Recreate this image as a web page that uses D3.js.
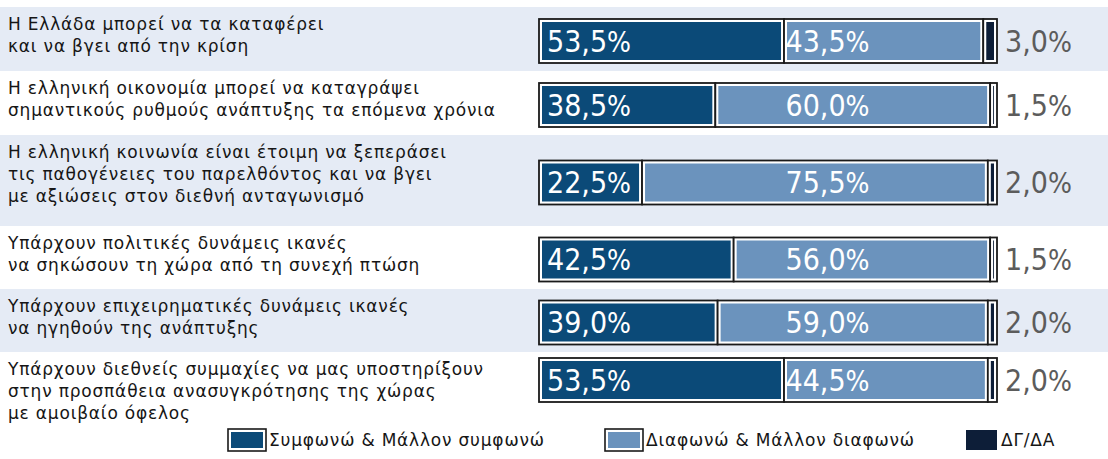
<!DOCTYPE html>
<html>
<head>
<meta charset="utf-8">
<script src="https://cdn.jsdelivr.net/npm/d3@7"></script>
<style>
  html, body { margin: 0; padding: 0; background: #ffffff; }
  svg { display: block; }
</style>
</head>
<body>
<svg id="chart" width="1108" height="459"></svg>
<script>
// ---------------- DATA ----------------
const questions = [
  ["Η Ελλάδα μπορεί να τα καταφέρει", "και να βγει από την κρίση"],
  ["Η ελληνική οικονομία μπορεί να καταγράψει", "σημαντικούς ρυθμούς ανάπτυξης τα επόμενα χρόνια"],
  ["Η ελληνική κοινωνία είναι έτοιμη να ξεπεράσει", "τις παθογένειες του παρελθόντος και να βγει", "με αξιώσεις στον διεθνή ανταγωνισμό"],
  ["Υπάρχουν πολιτικές δυνάμεις ικανές", "να σηκώσουν τη χώρα από τη συνεχή πτώση"],
  ["Υπάρχουν επιχειρηματικές δυνάμεις ικανές", "να ηγηθούν της ανάπτυξης"],
  ["Υπάρχουν διεθνείς συμμαχίες να μας υποστηρίξουν", "στην προσπάθεια ανασυγκρότησης της χώρας", "με αμοιβαίο όφελος"]
];
const agree    = [53.5, 38.5, 22.5, 42.5, 39.0, 53.5];
const disagree = [43.5, 60.0, 75.5, 56.0, 59.0, 44.5];
const dkna     = [3.0, 1.5, 2.0, 1.5, 2.0, 2.0];
const seriesNames = ["Συμφωνώ & Μάλλον συμφωνώ", "Διαφωνώ & Μάλλον διαφωνώ", "ΔΓ/ΔΑ"];

// ---------------- LAYOUT / STYLE ----------------
const W = 1108, H = 459;
const rowHeights = [64, 64, 91, 63, 63, 52];
const firstRowTop = 7;
const barH = 44;
const lineGap = 22;
const firstLineOffset = 17;
const colors = ["#0b4a78", "#6b93bd", "#0d1e38"];
const bandColor = "#e5ebf5";
const labelFont = "'DejaVu Sans', sans-serif";
const numFont = "'DejaVu Sans Condensed', 'DejaVu Sans', sans-serif";

const fmt = d3.formatLocale({decimal: ",", thousands: ".", grouping: [3], currency: ["", "€"]}).format(".1f");

const svg = d3.select("#chart");
const x = d3.scaleLinear().domain([0, 100]).range([539, 997]);

// row geometry
let acc = firstRowTop;
const rows = questions.map((q, i) => {
  const top = acc;
  acc += rowHeights[i];
  const segs = [];
  let s = 0;
  [agree[i], disagree[i], dkna[i]].forEach((v, k) => {
    segs.push({k, v, x0: s, x1: s + v});
    s += v;
  });
  return {i, lines: q, top, h: rowHeights[i], segs};
});

// background bands
svg.append("g").selectAll("rect")
  .data(rows.filter(r => r.i % 2 === 0))
  .join("rect")
  .attr("x", 0).attr("width", W)
  .attr("y", r => r.top).attr("height", r => r.h)
  .attr("fill", bandColor);

const rowG = svg.append("g").selectAll("g")
  .data(rows)
  .join("g")
  .attr("transform", r => `translate(0,${r.top})`);

// labels
rowG.append("text")
  .attr("font-family", labelFont)
  .attr("font-size", 17)
  .attr("letter-spacing", 0.8)
  .attr("fill", "#161616")
  .selectAll("tspan")
  .data(r => r.lines.map((t, j) => ({t, j})))
  .join("tspan")
  .attr("x", 8)
  .attr("y", d => firstLineOffset + d.j * lineGap)
  .attr("dy", "0.35em")
  .text(d => d.t);

// bars
const barG = rowG.append("g").attr("transform", r => `translate(0,${r.h / 2 + 2 - barH / 2})`);
const segG = barG.selectAll("g.seg")
  .data(r => r.segs)
  .join("g").attr("class", "seg");

segG.append("rect")
  .attr("x", d => x(d.x0)).attr("width", d => x(d.x1) - x(d.x0))
  .attr("y", 0).attr("height", barH)
  .attr("fill", "#ffffff")
  .attr("stroke", "#1a1a1a").attr("stroke-width", 1.8);

segG.append("rect")
  .attr("x", d => x(d.x0) + 3).attr("width", d => Math.max(0, x(d.x1) - x(d.x0) - 6))
  .attr("y", 3).attr("height", barH - 6)
  .attr("fill", d => colors[d.k]);

// value labels inside bars
function pct(sel) {
  sel.append("tspan").text(d => fmt(d.v));
  sel.append("tspan").attr("font-size", 28).text("%");
}
barG.append("text")
  .datum(r => r.segs[0])
  .attr("x", x(0) + 8).attr("y", barH / 2).attr("dy", "0.36em")
  .attr("font-family", numFont).attr("font-size", 30).attr("fill", "#ffffff")
  .call(pct);

barG.append("text")
  .datum(r => r.segs[1])
  .attr("x", x(63)).attr("y", barH / 2).attr("dy", "0.36em")
  .attr("text-anchor", "middle")
  .attr("font-family", numFont).attr("font-size", 30).attr("fill", "#ffffff")
  .call(pct);

barG.append("text")
  .datum(r => r.segs[2])
  .attr("x", x(100) + 8).attr("y", barH / 2).attr("dy", "0.36em")
  .attr("font-family", numFont).attr("font-size", 30).attr("fill", "#5c5c5c")
  .call(pct);

// legend
const legendY = 440;
const legendItems = [
  {name: seriesNames[0], c: colors[0], x: 228, framed: true},
  {name: seriesNames[1], c: colors[1], x: 605, framed: true},
  {name: seriesNames[2], c: colors[2], x: 966, framed: false}
];
const lg = svg.append("g").selectAll("g")
  .data(legendItems)
  .join("g")
  .attr("transform", d => `translate(${d.x},${legendY})`);

lg.filter(d => d.framed).append("rect")
  .attr("x", 0).attr("y", -11).attr("width", 38).attr("height", 22)
  .attr("fill", "#fff").attr("stroke", "#1a1a1a").attr("stroke-width", 1.6);
lg.append("rect")
  .attr("x", d => d.framed ? 3 : 0).attr("y", d => d.framed ? -8 : -10)
  .attr("width", d => d.framed ? 32 : 31).attr("height", d => d.framed ? 16 : 20)
  .attr("fill", d => d.c);
lg.append("text")
  .attr("x", d => d.framed ? 41 : 35).attr("y", 0).attr("dy", "0.35em")
  .attr("font-family", labelFont).attr("font-size", 17).attr("letter-spacing", 0.8).attr("fill", "#161616")
  .text(d => d.name);
</script>
</body>
</html>
